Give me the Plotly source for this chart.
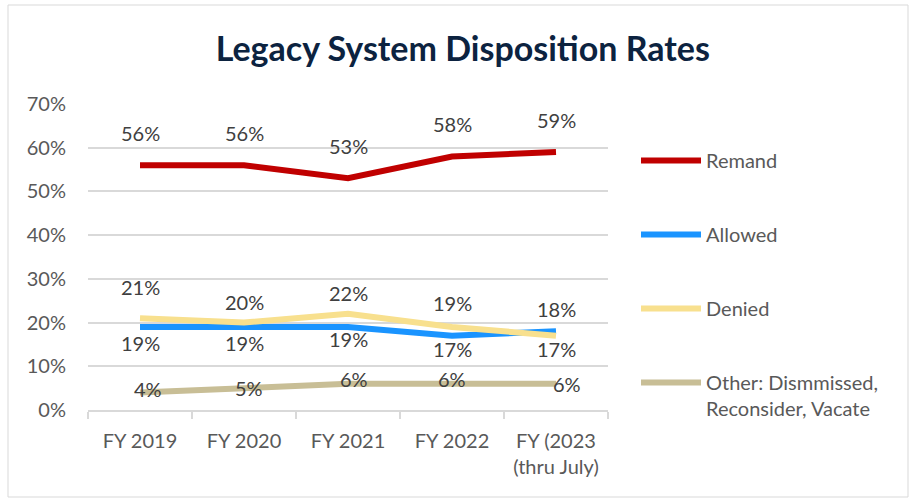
import plotly.graph_objects as go

categories = ["FY 2019", "FY 2020", "FY 2021", "FY 2022", "FY (2023<br>(thru July)"]
remand = [56, 56, 53, 58, 59]
allowed = [19, 19, 19, 17, 18]
denied = [21, 20, 22, 19, 17]
other = [4, 5, 6, 6, 6]

series_names = ["Remand", "Allowed", "Denied", "Other: Dismmissed,<br>Reconsider, Vacate"]
series_values = [remand, allowed, denied, other]
colors = ["#C00000", "#1A94FF", "#F8E08E", "#C8BE96"]

# label placement style (yshift px, xshift px) per series / point
label_shift = [
    [(32, 0)] * 5,
    [(-16, 0), (-16, 0), (-12, 0), (-13, 0), (22, 0)],
    [(31, 0), (21, 0), (21, 0), (24, 0), (-13, 0)],
    [(4, 8), (0, 5), (5, 6), (5, 0), (0, 11)],
]

FONT = "Lato"
fig = go.Figure()
for name, vals, col in zip(series_names, series_values, colors):
    fig.add_trace(go.Scatter(
        x=categories, y=vals, mode="lines", name=name,
        line=dict(color=col, width=6), legendgroup=name,
        hoverinfo="skip",
    ))

annotations = []
for vals, shifts in zip(series_values, label_shift):
    for c, v, (ys, xs) in zip(categories, vals, shifts):
        annotations.append(dict(
            x=c, y=v, text=f"{v}%", showarrow=False,
            yshift=ys, xshift=xs, xref="x", yref="y",
            font=dict(family=FONT, size=20, color="#404040"),
        ))

L, R, T, B = 88, 608, 104, 410
W, H = 911, 499
pw, ph = R - L, B - T
def px(xp): return (xp - L) / pw
def py(yp): return (B - yp) / ph

fig.update_layout(
    width=W, height=H,
    margin=dict(l=L, r=W - R, t=T, b=H - B, autoexpand=False),
    paper_bgcolor="white", plot_bgcolor="white",
    title=dict(text="<b>Legacy System Disposition Rates</b>", x=0.508, xanchor="center",
               y=1 - 49 / H, yanchor="middle", yref="container",
               font=dict(family=FONT, size=34, color="#0C2340")),
    font=dict(family=FONT, size=20, color="#595959"),
    showlegend=True,
    legend=dict(x=px(636), xanchor="left", y=py(141), yanchor="top",
                font=dict(family=FONT, size=20, color="#595959"),
                tracegroupgap=45, valign="top", itemwidth=60,
                bgcolor="rgba(0,0,0,0)"),
    annotations=annotations,
    shapes=[dict(type="rect", xref="paper", yref="paper",
                 x0=px(8), x1=px(908), y0=py(497), y1=py(5),
                 line=dict(color="#D9D9D9", width=1), layer="below")],
    xaxis=dict(type="category", range=[-0.5, len(categories) - 0.5], autorange=False,
               showgrid=False, showline=True, linecolor="#D9D9D9",
               linewidth=1.5, ticks="outside", ticklen=7, tickcolor="#D9D9D9",
               tickwidth=1.5, tickson="boundaries", ticklabelstandoff=12,
               tickfont=dict(family=FONT, size=20, color="#595959"), fixedrange=True),
    yaxis=dict(range=[0, 70], autorange=False, dtick=10, ticksuffix="%", showgrid=True,
               gridcolor="#D9D9D9", gridwidth=1.5, zeroline=False, showline=False,
               ticks="", ticklabelstandoff=21,
               tickfont=dict(family=FONT, size=20, color="#595959"), fixedrange=True),
)

fig.write_html("out.html", config={"displayModeBar": False},
               post_script="document.body.style.margin='0';")
